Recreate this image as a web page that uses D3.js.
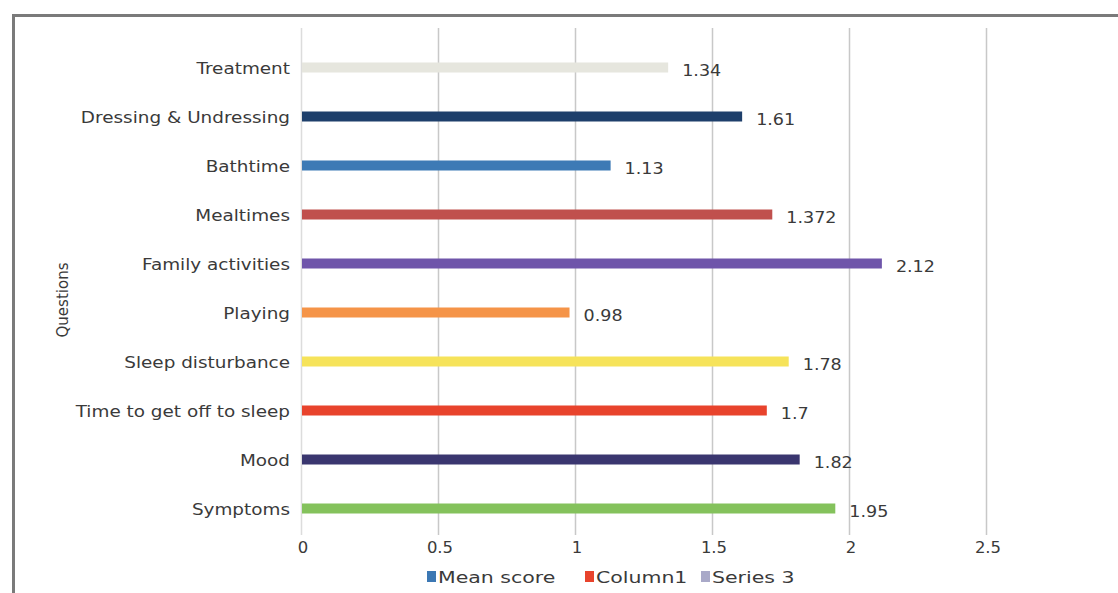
<!DOCTYPE html>
<html>
<head>
<meta charset="utf-8">
<script src="https://cdn.jsdelivr.net/npm/d3@7"></script>
<style>
  body { margin: 0; background: #fff; }
  text { font-family: "DejaVu Sans", Verdana, sans-serif; fill: #3a3a3a; }
</style>
</head>
<body>
<div id="chart"></div>
<script>
var categories = ["Treatment", "Dressing & Undressing", "Bathtime", "Mealtimes", "Family activities",
                  "Playing", "Sleep disturbance", "Time to get off to sleep", "Mood", "Symptoms"];
// bar lengths as drawn (Mealtimes bar is drawn at ~1.72 although labelled 1.372)
var values = [1.34, 1.61, 1.13, 1.72, 2.12, 0.98, 1.78, 1.7, 1.82, 1.95];
var valueLabels = ["1.34", "1.61", "1.13", "1.372", "2.12", "0.98", "1.78", "1.7", "1.82", "1.95"];
var barColors = ["#e6e6de", "#1e3f6b", "#3d7ab5", "#c0504d", "#6f55aa",
                 "#f59448", "#f6e35a", "#e8432c", "#3a366f", "#84c25c"];
var xTicks = [0, 0.5, 1, 1.5, 2, 2.5];
var legendNames = ["Mean score", "Column1", "Series 3"];
var legendColors = ["#3c78b4", "#e8432c", "#a9a9c8"];

var w = 1118, h = 593;
var svg = d3.select("#chart").append("svg")
    .attr("width", w)
    .attr("height", h);

// outer frame (only top and left edges visible)
svg.append("path")
    .attr("d", "M13.5," + h + "V15.5H" + w)
    .attr("fill", "none")
    .attr("stroke", "#7a7a7a")
    .attr("stroke-width", 3);

var margin = {top: 43, left: 301, bottom: 533},
    x = d3.scaleLinear().domain([0, 1]).range([margin.left, margin.left + 274]),
    y = d3.scaleBand().domain(categories).range([margin.top, margin.bottom]).padding(0);

// gridlines
svg.append("g").selectAll("line")
    .data(xTicks)
    .enter().append("line")
    .attr("x1", function(d) { return x(d) + 0.5; })
    .attr("x2", function(d) { return x(d) + 0.5; })
    .attr("y1", 28)
    .attr("y2", 535)
    .attr("stroke", function(d) { return d === 0 ? "#dcdcdc" : "#c8c8c8"; })
    .attr("stroke-width", 1.5);

// x tick labels
svg.append("g").selectAll("text")
    .data(xTicks)
    .enter().append("text")
    .attr("transform", function(d) { return "translate(" + (x(d) + 2) + ",553) scale(1.1,1)"; })
    .attr("text-anchor", "middle")
    .style("font-size", "15px")
    .text(function(d) { return d; });

// bars
var barH = 10;
svg.append("g").selectAll("rect")
    .data(values)
    .enter().append("rect")
    .attr("x", x(0) + 1)
    .attr("y", function(d, i) { return y(categories[i]) + y.bandwidth() / 2 - barH / 2; })
    .attr("width", function(d) { return x(d) - x(0) - 1; })
    .attr("height", barH)
    .attr("fill", function(d, i) { return barColors[i]; });

// value labels
svg.append("g").selectAll("text")
    .data(values)
    .enter().append("text")
    .attr("transform", function(d, i) {
      return "translate(" + (x(d) + 14) + "," + (y(categories[i]) + y.bandwidth() / 2 + 8) + ") scale(1.17,1)";
    })
    .style("font-size", "15px")
    .text(function(d, i) { return valueLabels[i]; });

// category labels
svg.append("g").selectAll("text")
    .data(categories)
    .enter().append("text")
    .attr("transform", function(d) {
      return "translate(290," + (y(d) + y.bandwidth() / 2 + 6) + ") scale(1.15,1)";
    })
    .attr("text-anchor", "end")
    .style("font-size", "16px")
    .text(function(d) { return d; });

// y-axis title
svg.append("text")
    .attr("transform", "translate(68,300) rotate(-90)")
    .attr("text-anchor", "middle")
    .style("font-size", "15px")
    .text("Questions");

// legend
var legendX = [427, 585, 701];
var legend = svg.append("g");
legend.selectAll("rect")
    .data(legendNames)
    .enter().append("rect")
    .attr("x", function(d, i) { return legendX[i]; })
    .attr("y", 571)
    .attr("width", 9)
    .attr("height", 11)
    .attr("fill", function(d, i) { return legendColors[i]; });
legend.selectAll("text")
    .data(legendNames)
    .enter().append("text")
    .attr("transform", function(d, i) { return "translate(" + (legendX[i] + 11) + ",583) scale(1.28,1)"; })
    .style("font-size", "16px")
    .text(function(d) { return d; });
</script>
</body>
</html>
